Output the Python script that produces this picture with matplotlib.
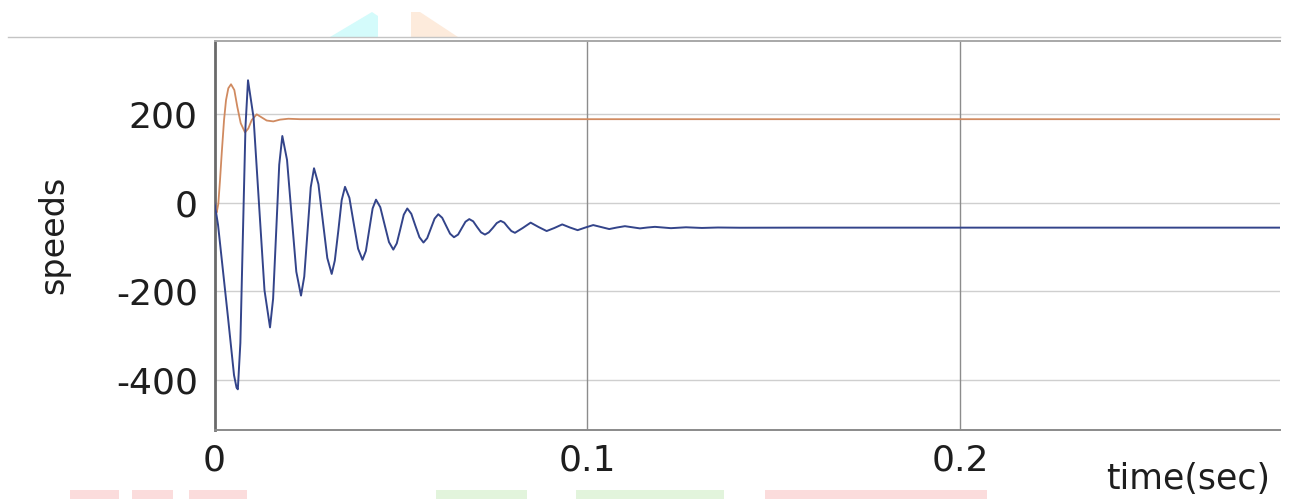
import matplotlib
matplotlib.use("Agg")
import matplotlib.pyplot as plt
from matplotlib.lines import Line2D
from matplotlib.patches import Polygon, Rectangle
import numpy as np

# speed response, time in ms
blue_t_ms = [0.00, 0.94, 3.62, 5.23, 5.90, 6.25, 6.93, 7.61, 8.30, 8.98,
             10.46, 11.93, 13.40, 14.88, 15.71, 16.53, 17.35, 18.18,
             19.44, 20.68, 21.93, 23.19, 24.06, 24.93, 25.80, 26.68,
             27.86, 29.05, 30.24, 31.42, 32.25, 33.20, 34.10, 34.99,
             36.17, 37.33, 38.50, 39.68, 40.59, 41.49, 42.39, 43.30,
             44.45, 45.62, 46.78, 47.94, 48.87, 49.81, 50.75, 51.69,
             52.77, 53.86, 54.95, 56.03, 57.03, 58.02, 59.01, 60.00,
             61.05, 62.10, 63.16, 64.21, 65.31, 66.26, 67.29, 68.31,
             69.36, 70.42, 71.47, 72.52, 73.56, 74.62, 75.68, 76.73,
             77.69, 78.65, 79.60, 80.56, 82.67, 84.77, 86.92, 89.06,
             91.15, 93.24, 95.31, 97.37, 99.46, 101.55, 103.70, 105.84,
             107.91, 110.05, 112.06, 114.08, 116.09, 118.10, 122.39,
             126.41, 130.70, 134.99, 140.90, 157.00, 285.70]
blue_speed = [0, -50, -260, -390, -418, -422, -317, -72, 172, 277,
              193, -3, -198, -282, -217, -66, 86, 151,
              97, -30, -156, -210, -167, -66, 35, 78,
              42, -42, -125, -161, -131, -63, 6, 36,
              11, -47, -104, -129, -109, -61, -13, 7,
              -10, -50, -89, -106, -92, -60, -27, -13,
              -25, -52, -78, -90, -80, -58, -36, -26,
              -34, -52, -70, -78, -72, -58, -43, -37,
              -42, -55, -67, -72, -67, -57, -46, -41,
              -45, -55, -64, -68, -57, -45, -55, -64,
              -57, -49, -56, -62, -56, -50.5, -55, -59.5,
              -56, -53, -55.5, -58, -56, -54.5, -57.5,
              -55.5, -57, -56, -56.5, -56.3, -56.3]

orange_t_ms = [0.00, 0.27, 0.59, 1.02, 1.47, 1.93, 2.55, 3.08, 3.70,
               4.42, 5.31, 6.11, 7.02, 8.18, 9.06, 9.97, 11.31, 12.65,
               13.99, 15.76, 17.56, 19.79, 22.92, 285.70]
orange_speed = [0, -15, -22, -2, 51, 112, 187, 232, 259,
                268, 255, 217, 180, 159, 168, 187, 200, 193,
                186, 184, 188, 190, 189, 189]

x_ticks = [0, 0.1, 0.2]
x_tick_labels = ["0", "0.1", "0.2"]
y_ticks = [-400, -200, 0, 200]

fig = plt.figure(figsize=(12.9, 4.99), dpi=100)
ax = fig.add_axes([0.1663, 0.1383, 0.8259, 0.7801])

ax.plot(np.array(orange_t_ms) / 1000, orange_speed, color="#d08a60",
        lw=1.3, zorder=3, solid_joinstyle="round")
ax.plot(np.array(blue_t_ms) / 1000, blue_speed, color="#33448a",
        lw=1.4, zorder=4, solid_joinstyle="round")

ax.set_xlim(0, 0.2857)
ax.set_ylim(-514, 366.5)
ax.set_xticks(x_ticks)
ax.set_xticklabels(x_tick_labels)
ax.set_yticks(y_ticks)
ax.set_yticklabels([str(v) for v in y_ticks])

for y in y_ticks:
    ax.axhline(y, color="#cfcfcf", lw=1.0, zorder=1)
for x in x_ticks[1:]:
    ax.axvline(x, color="#8c8c8c", lw=1.0, zorder=1)

ax.tick_params(length=0, labelsize=26, colors="#1e1e1e")
ax.tick_params(axis="y", pad=12)
ax.tick_params(axis="x", pad=10)

ax.spines["right"].set_visible(False)
ax.spines["left"].set_color("#6a6a6a")
ax.spines["left"].set_linewidth(2.0)
ax.spines["bottom"].set_color("#8a8a8a")
ax.spines["bottom"].set_linewidth(1.4)
ax.spines["top"].set_color("#a8a8a8")
ax.spines["top"].set_linewidth(1.4)

ax.set_ylabel("speeds", fontsize=24, color="#1e1e1e")
ax.yaxis.set_label_coords(-0.1356, 0.5)
ax.set_xlabel("time(sec)", fontsize=25, color="#1e1e1e", ha="right", va="bottom")
ax.xaxis.set_label_coords(0.9906, -0.170)

# thin rule above the plot
fig.add_artist(Line2D([8 / 1290, 1280 / 1290], [1 - 36.7 / 499] * 2,
                      color="#c4c4c4", lw=1.0))

# faint logo fragments at the edges
def px(x, y):
    return (x / 1290, 1 - y / 499)

fig.add_artist(Polygon([px(330, 37), px(372, 12), px(378, 16), px(378, 37)],
                       closed=True, color="#d4fbfb", lw=0, zorder=0))
fig.add_artist(Polygon([px(411, 37), px(411, 12), px(420, 12), px(458, 37)],
                       closed=True, color="#fdebdc", lw=0, zorder=0))
for x0, x1, c in [(70, 119, "#fbdcdc"), (132, 173, "#fbdcdc"),
                  (189, 247, "#fbdcdc"), (436, 527, "#e2f4dc"),
                  (576, 724, "#e2f4dc"), (765, 987, "#fbdcdc")]:
    fig.add_artist(Rectangle(px(x0, 499), (x1 - x0) / 1290, 9 / 499,
                             color=c, lw=0, zorder=0))

fig.savefig("out.png", dpi=100)
